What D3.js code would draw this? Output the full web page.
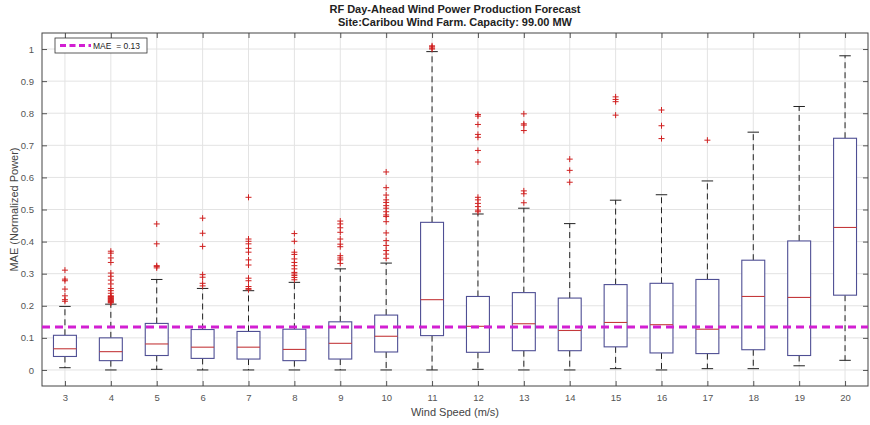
<!DOCTYPE html>
<html>
<head>
<meta charset="utf-8">
<script src="https://cdn.jsdelivr.net/npm/d3@7"></script>
<style>
  html, body { margin: 0; padding: 0; background: #fff; }
  svg { display: block; font-family: "Liberation Sans", Arial, sans-serif; }
</style>
</head>
<body>
<div id="chart"></div>
<script>
// wind speed bins (m/s)
var windSpeeds = [3, 4, 5, 6, 7, 8, 9, 10, 11, 12, 13, 14, 15, 16, 17, 18, 19, 20];
// box statistics
var q1 =        [0.042, 0.029, 0.045, 0.036, 0.034, 0.029, 0.034, 0.056, 0.107, 0.055, 0.060, 0.060, 0.072, 0.053, 0.051, 0.063, 0.045, 0.233];
var medians =   [0.066, 0.057, 0.081, 0.071, 0.071, 0.064, 0.083, 0.105, 0.219, 0.136, 0.144, 0.123, 0.148, 0.141, 0.127, 0.229, 0.226, 0.444];
var q3 =        [0.108, 0.100, 0.145, 0.126, 0.120, 0.127, 0.150, 0.171, 0.460, 0.229, 0.241, 0.224, 0.266, 0.270, 0.282, 0.342, 0.402, 0.722];
var whiskerLo = [0.007, 0.000, 0.002, 0.000, 0.000, 0.000, 0.000, 0.000, 0.000, 0.002, 0.000, 0.000, 0.004, 0.000, 0.004, 0.004, 0.013, 0.030];
var whiskerHi = [0.198, 0.205, 0.282, 0.254, 0.247, 0.273, 0.315, 0.333, 0.992, 0.486, 0.504, 0.456, 0.529, 0.546, 0.589, 0.741, 0.821, 0.979];
var outliers = [
  [0.311, 0.283, 0.278, 0.252, 0.231, 0.219, 0.214],
  [0.370, 0.364, 0.349, 0.335, 0.302, 0.292, 0.280, 0.268, 0.254, 0.247, 0.239, 0.231, 0.229, 0.227, 0.225, 0.223, 0.221, 0.219, 0.217, 0.215, 0.213, 0.211, 0.209],
  [0.455, 0.393, 0.325, 0.322, 0.318],
  [0.473, 0.426, 0.385, 0.297, 0.289, 0.270, 0.262],
  [0.538, 0.408, 0.401, 0.393, 0.379, 0.367, 0.343, 0.327, 0.286, 0.278, 0.260, 0.254, 0.250],
  [0.425, 0.401, 0.367, 0.360, 0.346, 0.335, 0.325, 0.315, 0.304, 0.299, 0.294, 0.288, 0.281],
  [0.464, 0.455, 0.443, 0.429, 0.408, 0.392, 0.384, 0.356, 0.349, 0.343, 0.332],
  [0.617, 0.568, 0.545, 0.530, 0.522, 0.512, 0.504, 0.493, 0.483, 0.478, 0.462, 0.427, 0.403, 0.388, 0.372, 0.361, 0.348],
  [1.000, 1.003, 1.007, 1.010],
  [0.796, 0.791, 0.765, 0.734, 0.725, 0.684, 0.648, 0.538, 0.530, 0.519, 0.509, 0.498, 0.493],
  [0.798, 0.767, 0.763, 0.746, 0.558, 0.549, 0.521],
  [0.657, 0.622, 0.585],
  [0.851, 0.843, 0.836, 0.794],
  [0.810, 0.761, 0.721],
  [0.716],
  [],
  [],
  []
];
var mae = 0.134;
var yTicks = [0, 0.1, 0.2, 0.3, 0.4, 0.5, 0.6, 0.7, 0.8, 0.9, 1];

var W = 870, H = 425;
var margin = {left: 42, right: 2, top: 33, bottom: 39};
var pw = W - margin.left - margin.right;
var ph = H - margin.top - margin.bottom;

var svg = d3.select('#chart').append('svg')
  .attr('width', W).attr('height', H);

var x = d3.scaleLinear().domain([2.5, 20.5]).range([0, pw]);
var y = d3.scaleLinear().domain([-0.05, 1.05]).range([ph, 0]);

var g = svg.append('g').attr('transform', 'translate(' + margin.left + ',' + margin.top + ')');

// grid
g.append('g').selectAll('line').data(windSpeeds).enter().append('line')
  .attr('x1', function (d) { return x(d); }).attr('x2', function (d) { return x(d); })
  .attr('y1', 0).attr('y2', ph)
  .attr('stroke', '#e3e3e3').attr('stroke-width', 1);
g.append('g').selectAll('line').data(yTicks).enter().append('line')
  .attr('y1', function (d) { return y(d); }).attr('y2', function (d) { return y(d); })
  .attr('x1', 0).attr('x2', pw)
  .attr('stroke', '#e3e3e3').attr('stroke-width', 1);

// axes (ticks inward, on all four sides like matlab "box on")
var tk = 5;
var axB = g.append('g').attr('transform', 'translate(0,' + ph + ')')
  .call(d3.axisBottom(x).tickValues(windSpeeds).tickSize(-tk).tickPadding(8).tickFormat(d3.format('d')));
var axT = g.append('g')
  .call(d3.axisTop(x).tickValues(windSpeeds).tickSize(-tk).tickFormat(''));
var axL = g.append('g')
  .call(d3.axisLeft(y).tickValues(yTicks).tickSize(-tk).tickPadding(8).tickFormat(function (d) { return d === 0 || d === 1 ? d3.format('d')(d) : d3.format('.1f')(d); }));
var axR = g.append('g').attr('transform', 'translate(' + pw + ',0)')
  .call(d3.axisRight(y).tickValues(yTicks).tickSize(-tk).tickFormat(''));
[axB, axT, axL, axR].forEach(function (a) {
  a.select('.domain').remove();
  a.selectAll('.tick line').attr('stroke', '#555');
  a.selectAll('text').attr('fill', '#555').attr('font-size', '9.5px')
    .attr('font-family', '"Liberation Sans", Arial, sans-serif');
});
g.append('rect').attr('x', 0).attr('y', 0).attr('width', pw).attr('height', ph)
  .attr('fill', 'none').attr('stroke', '#444').attr('stroke-width', 1);

// boxes
var bw = x(0.25) - x(0);
var cw = x(0.125) - x(0);
var boxes = g.append('g').selectAll('g').data(windSpeeds).enter().append('g');

boxes.append('line')
  .attr('x1', function (d) { return x(d); }).attr('x2', function (d) { return x(d); })
  .attr('y1', function (d, i) { return y(q3[i]); }).attr('y2', function (d, i) { return y(whiskerHi[i]); })
  .attr('stroke', '#222').attr('stroke-dasharray', '6,4');
boxes.append('line')
  .attr('x1', function (d) { return x(d); }).attr('x2', function (d) { return x(d); })
  .attr('y1', function (d, i) { return y(q1[i]); }).attr('y2', function (d, i) { return y(whiskerLo[i]); })
  .attr('stroke', '#222').attr('stroke-dasharray', '6,4');
boxes.append('line')
  .attr('x1', function (d) { return x(d) - cw; }).attr('x2', function (d) { return x(d) + cw; })
  .attr('y1', function (d, i) { return y(whiskerHi[i]); }).attr('y2', function (d, i) { return y(whiskerHi[i]); })
  .attr('stroke', '#222');
boxes.append('line')
  .attr('x1', function (d) { return x(d) - cw; }).attr('x2', function (d) { return x(d) + cw; })
  .attr('y1', function (d, i) { return y(whiskerLo[i]); }).attr('y2', function (d, i) { return y(whiskerLo[i]); })
  .attr('stroke', '#222');
boxes.append('rect')
  .attr('x', function (d) { return x(d) - bw; })
  .attr('y', function (d, i) { return y(q3[i]); })
  .attr('width', 2 * bw)
  .attr('height', function (d, i) { return y(q1[i]) - y(q3[i]); })
  .attr('fill', '#fff').attr('stroke', '#4f4f94').attr('stroke-width', 1.1);
boxes.append('line')
  .attr('x1', function (d) { return x(d) - bw; }).attr('x2', function (d) { return x(d) + bw; })
  .attr('y1', function (d, i) { return y(medians[i]); }).attr('y2', function (d, i) { return y(medians[i]); })
  .attr('stroke', '#c4393b').attr('stroke-width', 1.1);

// outliers
boxes.each(function (d, i) {
  d3.select(this).selectAll('path.out').data(outliers[i]).enter().append('path')
    .attr('class', 'out')
    .attr('d', function (v) {
      var cx = x(d), cy = y(v), s = 3;
      return 'M' + (cx - s) + ',' + cy + 'H' + (cx + s) + 'M' + cx + ',' + (cy - s) + 'V' + (cy + s);
    })
    .attr('stroke', '#d02020').attr('stroke-width', 1).attr('fill', 'none');
});

// MAE line
g.append('line')
  .attr('x1', 0).attr('x2', pw)
  .attr('y1', y(mae)).attr('y2', y(mae))
  .attr('stroke', '#d21fd2').attr('stroke-width', 3).attr('stroke-dasharray', '8,5');

// legend
var lg = svg.append('g').attr('transform', 'translate(55,38)');
lg.append('rect').attr('width', 92).attr('height', 15)
  .attr('fill', '#fff').attr('stroke', '#333').attr('stroke-width', 0.8);
lg.append('line').attr('x1', 5).attr('x2', 36).attr('y1', 7.5).attr('y2', 7.5)
  .attr('stroke', '#d21fd2').attr('stroke-width', 3).attr('stroke-dasharray', '6,3.5');
lg.append('text').attr('x', 38).attr('y', 11)
  .attr('font-size', '8.5px').attr('fill', '#222')
  .text('MAE\u00a0\u00a0= ' + mae.toFixed(2));

// titles
svg.append('text').attr('x', margin.left + pw / 2).attr('y', 13)
  .attr('text-anchor', 'middle').attr('font-weight', 'bold').attr('font-size', '11px').attr('fill', '#222')
  .text('RF Day-Ahead Wind Power Production Forecast');
svg.append('text').attr('x', margin.left + pw / 2).attr('y', 26)
  .attr('text-anchor', 'middle').attr('font-weight', 'bold').attr('font-size', '11px').attr('fill', '#222')
  .text('Site:Caribou Wind Farm. Capacity: 99.00 MW');

// axis labels
svg.append('text').attr('x', margin.left + pw / 2).attr('y', 416)
  .attr('text-anchor', 'middle').attr('font-size', '11px').attr('fill', '#444')
  .text('Wind Speed (m/s)');
svg.append('text')
  .attr('transform', 'translate(18,' + (margin.top + ph / 2) + ') rotate(-90)')
  .attr('text-anchor', 'middle').attr('font-size', '11px').attr('fill', '#444')
  .text('MAE (Normalized Power)');
</script>
</body>
</html>
